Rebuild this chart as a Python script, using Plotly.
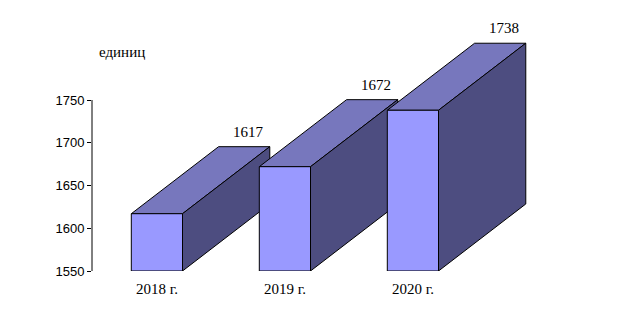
import plotly.graph_objects as go

categories = ["2018 г.", "2019 г.", "2020 г."]
values = [1617, 1672, 1738]
y_ticks = [1550, 1600, 1650, 1700, 1750]
unit_label = "единиц"

BASE = 1550
W = 0.2        # half bar width (category units)
DX = 0.682     # depth offset x (category units)
DY = 78.4      # depth offset y (value units)

FRONT = "#9999FF"
TOP = "#7777BD"
SIDE = "#4D4D80"

ML, MR, MT, MB = 84, 87, 12, 47
PW = 620 - ML - MR
PH = 310 - MT - MB

fig = go.Figure()

def poly(xs, ys, color):
    fig.add_trace(go.Scatter(
        x=xs + [xs[0]], y=ys + [ys[0]], mode="lines", fill="toself",
        fillcolor=color, line=dict(color="black", width=1),
        hoverinfo="skip", showlegend=False))

for i, v in enumerate(values):
    poly([i - W, i + W, i + W + DX, i - W + DX], [v, v, v + DY, v + DY], TOP)
    poly([i + W, i + W + DX, i + W + DX, i + W], [BASE, BASE + DY, v + DY, v], SIDE)
    poly([i - W, i + W, i + W, i - W], [BASE, BASE, v, v], FRONT)

for i, v in enumerate(values):
    fig.add_annotation(x=i + DX + 0.03, y=v + DY, xref="x", yref="y",
                       text=str(v), showarrow=False, yanchor="middle", yshift=15,
                       font=dict(family="Liberation Serif", size=15, color="black"))

fig.add_annotation(x=(114 - ML) / PW, y=(310 - MB - 44) / PH, xref="paper", yref="paper",
                   text=unit_label, showarrow=False, xanchor="center", yanchor="middle",
                   font=dict(family="Liberation Serif", size=15, color="black"))

fig.add_shape(type="line", xref="paper", yref="y", x0=0, x1=0,
              y0=y_ticks[0], y1=y_ticks[-1], line=dict(color="black", width=1))

fig.update_layout(
    width=620, height=310,
    margin=dict(l=ML, r=MR, t=MT, b=MB),
    paper_bgcolor="white", plot_bgcolor="white",
    xaxis=dict(range=[-0.507, -0.507 + PW / 128.0], tickvals=list(range(len(categories))),
               ticktext=categories, showgrid=False, zeroline=False, showline=False,
               ticks="", ticklabelstandoff=7,
               tickfont=dict(family="Liberation Serif", size=15, color="black")),
    yaxis=dict(range=[BASE, BASE + PH / 0.855], tickvals=y_ticks, showgrid=False,
               zeroline=False, showline=False, ticks="outside", ticklen=4,
               tickcolor="black", tickwidth=1,
               tickfont=dict(family="Liberation Sans", size=13, color="black")),
)

fig.write_html("out.html")
